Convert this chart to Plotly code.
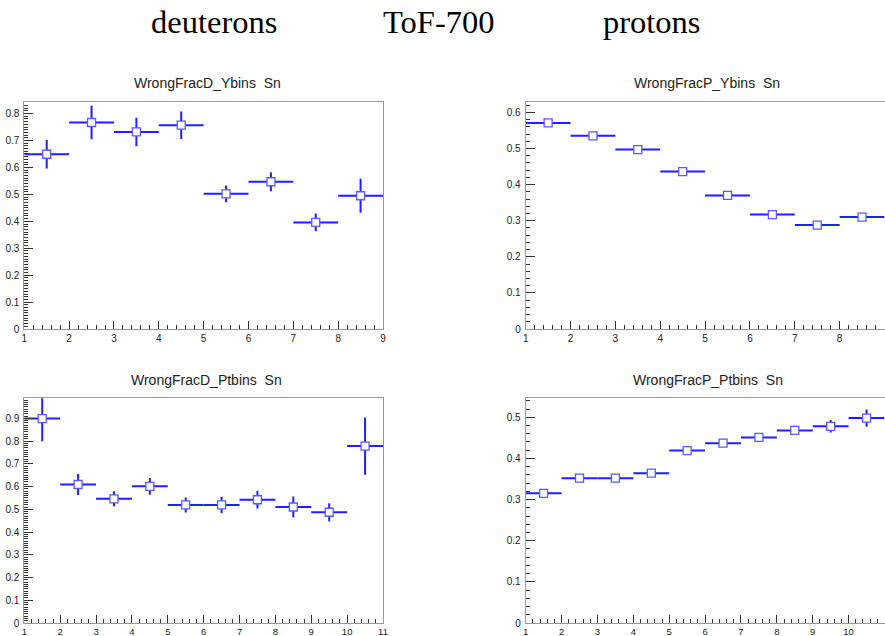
import plotly.graph_objects as go

# Bin centres (bin width 1) for the rapidity and pT binnings
y_bins = [1.5, 2.5, 3.5, 4.5, 5.5, 6.5, 7.5, 8.5]
pt_bins = [1.5, 2.5, 3.5, 4.5, 5.5, 6.5, 7.5, 8.5, 9.5, 10.5]

# Wrong-identification fractions, deuterons vs rapidity bin
d_y_frac = [0.649, 0.767, 0.732, 0.757, 0.502, 0.547, 0.396, 0.495]
d_y_err = [0.053, 0.062, 0.053, 0.051, 0.031, 0.035, 0.033, 0.063]

# Protons vs rapidity bin
p_y_frac = [0.571, 0.535, 0.497, 0.436, 0.370, 0.317, 0.288, 0.310]
p_y_err = [0.005, 0.005, 0.005, 0.005, 0.005, 0.005, 0.005, 0.005]

# Deuterons vs pT bin
d_pt_frac = [0.899, 0.609, 0.546, 0.601, 0.519, 0.519, 0.542, 0.510, 0.487, 0.778]
d_pt_err = [0.100, 0.046, 0.033, 0.037, 0.033, 0.036, 0.039, 0.046, 0.040, 0.126]

# Protons vs pT bin
p_pt_frac = [0.315, 0.352, 0.352, 0.364, 0.419, 0.437, 0.451, 0.468, 0.478, 0.498]
p_pt_err = [0.004, 0.004, 0.004, 0.004, 0.004, 0.005, 0.005, 0.011, 0.015, 0.021]

titles = ["WrongFracD_Ybins\u00a0 Sn", "WrongFracP_Ybins\u00a0 Sn",
          "WrongFracD_Ptbins\u00a0 Sn", "WrongFracP_Ptbins\u00a0 Sn"]
headers = ["deuterons", "ToF-700", "protons"]

W, H = 885, 636

# panel frames in pixels: (left, right, top, bottom)
frames = [(24.3, 383.0, 102.3, 329.0), (525.7, 884.5, 102.3, 329.0),
          (24.3, 383.0, 398.3, 623.0), (525.7, 884.5, 398.3, 623.0)]
xranges = [[1, 9], [1, 9], [1, 11], [1, 11]]
yranges = [[0, 0.842], [0, 0.628], [0, 0.988], [0, 0.546]]
yminor = [0.01, 0.02, 0.01, 0.02]
xfont_size = [10, 10, 9.5, 9.5]

series = [(y_bins, d_y_frac, d_y_err), (y_bins, p_y_frac, p_y_err),
          (pt_bins, d_pt_frac, d_pt_err), (pt_bins, p_pt_frac, p_pt_err)]

fig = go.Figure()
LINE_BLUE = "#1f1fff"
MARK_BLUE = "#5a5aff"

for i, (xs, vals, errs) in enumerate(series):
    ax = "" if i == 0 else str(i + 1)
    fig.add_trace(go.Scatter(
        x=xs, y=vals, mode="markers",
        xaxis="x" + ax, yaxis="y" + ax,
        marker=dict(symbol="square", size=8, color="white",
                    line=dict(color=MARK_BLUE, width=1.3)),
        error_x=dict(type="constant", value=0.5, width=0, thickness=2, color=LINE_BLUE),
        error_y=dict(type="data", array=errs, width=0, thickness=2, color=LINE_BLUE),
        showlegend=False, cliponaxis=True,
    ))

FONT = "Liberation Sans, Arial, sans-serif"
layout = dict(width=W, height=H, margin=dict(l=0, r=0, t=0, b=0, pad=0, autoexpand=False),
              paper_bgcolor="white", plot_bgcolor="white", showlegend=False)

for i, (l, r, t, b) in enumerate(frames):
    key = "" if i == 0 else str(i + 1)
    xd = [l / W, r / W]
    yd = [1 - b / H, 1 - t / H]
    layout["xaxis" + key] = dict(
        domain=xd, range=xranges[i], dtick=1, tick0=1, ticks="inside", ticklen=8,
        tickwidth=1, tickcolor="#333", showline=True, linecolor="#999", linewidth=1,
        mirror=True, showgrid=False, zeroline=False,
        tickfont=dict(family=FONT, size=xfont_size[i], color="#222"),
        minor=dict(dtick=0.2, ticks="inside", ticklen=4, tickcolor="#333", showgrid=False),
        anchor="y" + key, ticklabelstandoff=0, fixedrange=True, automargin=False,
    )
    layout["yaxis" + key] = dict(
        domain=yd, range=yranges[i], dtick=0.1, tick0=0, ticks="inside", ticklen=9,
        tickwidth=1, tickcolor="#333", showline=True, linecolor="#999", linewidth=1,
        mirror=True, showgrid=False, zeroline=False,
        tickfont=dict(family=FONT, size=10, color="#222"),
        minor=dict(dtick=yminor[i], ticks="inside", ticklen=4, tickcolor="#333", showgrid=False),
        anchor="x" + key, ticklabelstandoff=2, fixedrange=True, automargin=False,
    )

annotations = []
title_pos = [(207, 83), (707, 83), (206, 380), (708, 380)]
for txt, (px, py) in zip(titles, title_pos):
    annotations.append(dict(text=txt, x=px / W, y=1 - py / H, xref="paper", yref="paper",
                            showarrow=False, xanchor="center", yanchor="middle",
                            font=dict(family=FONT, size=14, color="#222")))
for txt, px in zip(headers, [214, 438, 652]):
    annotations.append(dict(text=txt, x=px / W, y=1 - 22 / H, xref="paper", yref="paper",
                            showarrow=False, xanchor="center", yanchor="middle",
                            font=dict(family="Liberation Serif, Times New Roman, serif", size=32.5, color="black")))
layout["annotations"] = annotations

fig.update_layout(**layout)
fig.write_html("out.html")
